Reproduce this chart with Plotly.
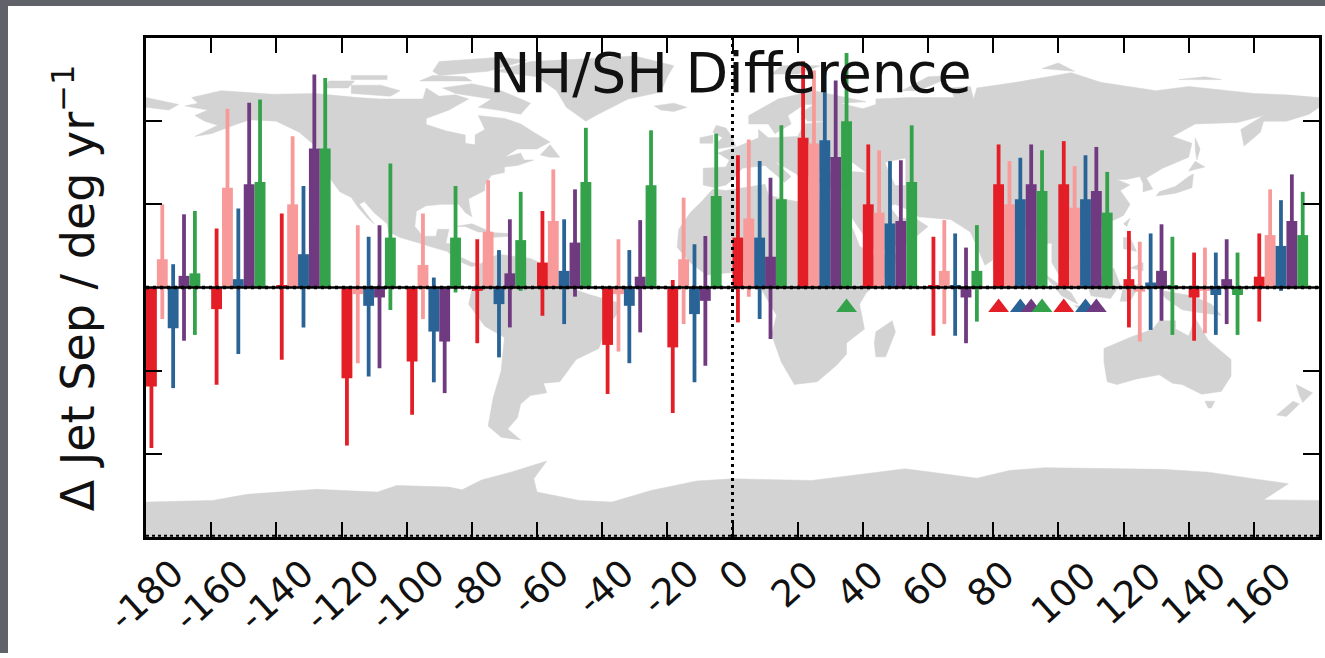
import plotly.graph_objects as go

# ---------- data ----------
group_lon = [-180,-160,-140,-120,-100,-80,-60,-40,-20,0,20,40,60,80,100,120,140,160]
tick_vals = [-180,-160,-140,-120,-100,-80,-60,-40,-20,0,20,40,60,80,100,120,140,160]
tick_text = ["-180","-160","-140","-120","-100","-80","-60","-40","-20","0","20","40","60","80","100","120","140","160"]

red_v  = [-1.19,-.26,.03,-1.09,-.89,-.04,.3,-.69,-.72,.6,1.8,1.0,.03,1.24,1.24,.1,-.12,.13]
red_lo = [-1.93,-1.17,-.87,-1.9,-1.53,-.67,-.34,-1.28,-1.51,-.42,.9,.3,-.58,.7,.72,-.48,-.64,-.41]
red_hi = [-.45,.71,.89,-.28,-.2,.58,.92,-.1,.09,1.59,2.72,1.72,.61,1.72,1.76,.68,.42,.65]
pink_v  = [.34,1.2,1.0,-.08,.27,.67,.8,-.08,.34,.83,1.73,.9,.2,1.0,.96,-.05,-.04,.63]
pink_lo = [-.38,.25,.18,-.91,-.38,.05,.2,-.77,-.44,-.11,.85,.15,-.44,.5,.46,-.65,-.55,.1]
pink_hi = [1.0,2.15,1.82,.75,.89,1.29,1.42,.58,1.08,1.78,2.61,1.65,.81,1.52,1.46,.55,.48,1.18]
blue_v  = [-.49,.10,.4,-.22,-.53,-.2,.2,-.22,-.32,.6,1.77,.77,.03,1.06,1.06,.06,-.09,.5]
blue_lo = [-1.21,-.8,-.48,-1.07,-1.14,-.84,-.44,-.91,-1.14,-.38,.9,.02,-.58,.55,.53,-.51,-.57,-.04]
blue_hi = [.28,.95,1.22,.61,.12,.45,.82,.45,.52,1.52,2.61,1.52,.65,1.56,1.59,.65,.42,1.05]
purple_v  = [.14,1.24,1.67,-.12,-.65,.17,.54,.13,-.16,.37,1.57,.8,-.12,1.24,1.16,.2,.1,.8]
purple_lo = [-.64,.26,.78,-.97,-1.27,-.48,-.11,-.54,-.94,-.62,.65,.05,-.67,.75,.63,-.4,-.44,.25]
purple_hi = [.88,2.22,2.56,.75,0,.82,1.18,.81,.62,1.32,2.49,1.53,.48,1.72,1.69,.76,.58,1.36]
green_v  = [.17,1.27,1.67,.6,.6,.57,1.27,1.23,1.1,1.06,2.0,1.27,.2,1.16,.9,.03,-.09,.63]
green_lo = [-.57,.28,.82,-.27,-.06,-.04,.6,.57,.37,.2,1.2,.6,-.41,.67,.42,-.57,-.57,.1]
green_hi = [.92,2.26,2.52,1.49,1.22,1.15,1.92,1.89,1.85,1.95,2.82,1.95,.75,1.65,1.39,.61,.42,1.15]

series_names = ["Red","Pink","Blue","Purple","Green"]
series_colors = ["#E41E26","#F89A9A","#2A6496","#6F3A80","#33A24A"]
series_v = [red_v,pink_v,blue_v,purple_v,green_v]
series_lo = [red_lo,pink_lo,blue_lo,purple_lo,green_lo]
series_hi = [red_hi,pink_hi,blue_hi,purple_hi,green_hi]

# significance triangles: (group longitude, series index)
sig_groups = [20,80,80,80,80,100,100,100]
sig_series = [4,0,2,3,4,0,2,3]
sig_value = -0.24

# ---------- land outlines (lon, lat) ----------
N_AMERICA = [(-168,65.5),(-164,66.5),(-166,68.5),(-157,71),(-141,69.7),(-128,70),(-115,68.5),(-108,68),(-95,68),(-94,72),(-90,69),(-85,69.5),(-81,68),(-87,64),(-94,61),(-94,58.8),(-88,56.5),(-82,55),(-82,52),(-79,51.5),(-79,55),(-76,57),(-78,62),(-70,61),(-65,59),(-61,56),(-56,52.5),(-60,50),(-66,50),(-70,47),(-65,48.5),(-64,46),(-61,46),(-66,44),(-70,43.5),(-70,41.5),(-74,40.5),(-76,37),(-76,35),(-81,32),(-80.5,28),(-80,25.5),(-82,27),(-84,30),(-89,30),(-94,29.5),(-97,27.5),(-97.5,22),(-95,18.5),(-91,18.5),(-90.5,21),(-87,21),(-88,16),(-84,15.5),(-83.5,11),(-80,9),(-77.5,8.5),(-80,7.5),(-85,10),(-87.5,13),(-92,14.5),(-96,16),(-102,18),(-105.5,20),(-106,23),(-110,27),(-113,31),(-114.5,30),(-110,23),(-112,25),(-115,29),(-117,32.5),(-120.5,34.5),(-124,40),(-124,47),(-128,51),(-133,56),(-140,60),(-148,60.5),(-152,59),(-160,55.5),(-165,54.5),(-158,58.5),(-162,60),(-165,62),(-161,64)]
S_AMERICA = [(-77.5,8.5),(-72,12),(-62,10.5),(-52,5),(-50,0),(-44,-2.5),(-35,-5.5),(-35,-9),(-39,-15),(-41,-22),(-48,-26),(-53,-34),(-58,-34.5),(-57,-38),(-62,-39),(-65,-42),(-66,-47),(-69,-51),(-65,-55),(-71,-54),(-75,-50),(-73.5,-40),(-71,-30),(-70,-18),(-76,-14),(-81,-6),(-80,-1),(-78,3)]
AFRICA = [(-6,35.5),(-2,35),(10,37.2),(11,33.5),(15,32),(20,31),(25,32),(32,31),(34,28),(37,21),(39,15),(43,11.5),(51,12),(49,6),(41,-2),(39,-6),(40.5,-15),(35,-20),(35,-24),(32,-28),(26,-34),(19,-35),(15,-27),(12,-17),(13.5,-10),(9,-1),(9.5,4),(5,6),(-4,5),(-8,4.5),(-13,9),(-17,14.5),(-16.5,21),(-13,27),(-9.5,31)]
EURASIA = [(-9,37),(-9,43),(-2,43.5),(-1,46),(-4.5,48.5),(2,51),(8,54),(8,57),(11,54),(20,54.5),(22,59),(30,60),(23,60),(21,63),(25,66),(22,66),(17,62),(18,59),(13,55.5),(11,59),(5,59),(5,62),(14,68),(25,71),(41,67),(33,66.5),(40,64.5),(44,66),(44,68),(54,68.5),(68,68.5),(67,72),(73,72.5),(74,68),(75,72),(87,74),(104,77.5),(113,74),(130,71),(140,72.5),(160,70),(170,69.5),(180,68.5),(180,65),(177,62.5),(170,60),(163,60),(162,56),(157,51),(156,57),(163,62),(155,59.5),(142,59),(135,54.5),(141,52),(140,47),(132,43),(127,39.5),(129,35.5),(126,34.5),(126,37.5),(125,40),(121,39),(118,39),(122,37),(119,35),(122,30),(120,26),(113,22),(108,21.5),(106,19),(109,13),(105,8.5),(100,13.5),(103,2),(101,3),(98,9),(98,16),(94,16),(91,22.5),(87,21),(80,15),(80,10),(77.5,8),(73,20),(67,24.5),(57,25.5),(56,27),(50,30),(48,29.5),(51,25),(56,25),(60,22),(55,17),(44,12.5),(39,21),(35,28),(34,31),(36,36),(30,36),(26.5,38),(27,41),(34,42),(41,41.5),(37,45),(33,45),(30,46),(28,42),(26,41),(23,40),(23,37),(19.5,41),(13,45.5),(18,40),(16,38),(10,44),(3,43),(0,39),(-2,37),(-5.5,36)]
CHUKOTKA = [(-180,68.5),(-170,66),(-173,64),(-180,65)]
AUSTRALIA = [(114,-22),(122,-18),(129,-15),(131,-12),(136,-12),(136,-15),(140,-17.5),(142,-11),(146,-19),(153,-26),(153,-32),(150,-37.5),(144,-38.5),(138,-35),(135,-34.5),(131,-31.5),(124,-33),(118,-35),(115,-34),(114,-27)]
ANTARCTICA = [(-180,-77.4),(-159.5,-76.8),(-149,-74.6),(-127.6,-72.8),(-109,-73.8),(-103,-71.4),(-87,-72),(-83,-73),(-77,-69.4),(-68,-66.6),(-57,-62.6),(-61,-69),(-60,-73.8),(-47,-76.8),(-37,-77.4),(-25,-73.2),(-11,-69.8),(0,-69),(24.3,-69.6),(53,-65.4),(75,-68.8),(85,-66),(96,-65),(132,-65.6),(146,-66.6),(170.6,-70.8),(163,-76.6),(180,-76.8),(180,-90),(-180,-90)]
ISLANDS = [
 [(-80,73.5),(-72,71.5),(-62,66.5),(-65,62.5),(-72,64),(-78,65),(-74,68),(-85,70),(-89,72)],
 [(-117,70),(-105,69),(-102,71),(-108,73),(-117,73)],
 [(-90,76.5),(-75,78),(-63,82),(-72,83),(-90,81.5),(-92,78)],
 [(-125,72),(-118,72),(-116,74.5),(-124,74.5)],
 [(-96,74.5),(-80,74.5),(-82,76),(-92,76.5)],
 [(-117,75),(-106,75),(-106,76.5),(-117,76.5)],
 [(-73,78),(-60,76),(-54,71),(-51,65),(-45,60),(-42,62),(-32,68),(-22,70.5),(-20,76),(-18,80),(-30,83.5),(-45,82.5),(-62,81.5)],
 [(-24,65.5),(-18,66.5),(-14,65),(-18,63.5),(-22,64)],
 [(-85,22),(-80,23),(-74,20),(-78,20),(-82,22)],
 [(-74,19.8),(-69,19.5),(-68.5,18.5),(-74,18)],
 [(-59,47.8),(-56,51.5),(-53,47),(-56,47)],
 [(-5,50),(1,51),(0,54),(-2,57.5),(-5,58.5),(-6,56),(-3,54),(-5,52)],
 [(-10,52),(-6,52),(-6,55),(-10,54)],
 [(12,77),(20,77),(27,80),(15,80)],
 [(52,71),(57,71),(68,76.5),(60,76)],
 [(95,79),(105,78),(100,81)],
 [(137,75),(150,75),(145,76)],
 [(142,54),(143.5,50),(142.5,46),(142,50)],
 [(130,33),(136,34),(141,36),(141.5,41),(140,40),(136,36.5),(131,34.5)],
 [(140,42),(145,43.5),(142,45.5)],
 [(120,23),(122,25),(121,22)],
 [(109,20),(111,19.5),(109,18)],
 [(80,9.5),(82,7),(80,6)],
 [(120,18),(122,18),(124,13),(120,14)],
 [(122,7),(126,9),(126,6)],
 [(109,1),(117,7),(119,1),(116,-4),(110,-3)],
 [(95,5.5),(104,-2),(106,-6),(101,-3)],
 [(105,-6.5),(114,-7.5),(114,-8.5),(106,-7.5)],
 [(119,-5),(120,1),(125,1),(122,-5)],
 [(131,-1),(141,-3),(147,-6),(150,-10),(143,-9),(138,-8),(133,-4)],
 [(145,-41),(148,-41),(147,-43.5),(146,-43.5)],
 [(173,-35),(178,-38),(175,-41.5),(174,-39)],
 [(167,-46),(172,-41),(174,-42),(170,-46.5)],
 [(49,-12),(50,-16),(47,-25),(44,-25),(43.5,-20),(44,-16)],
]
CASPIAN = [(47,45),(53,46.5),(53,37),(50,37),(48,42)]

LAT_PER_UNIT = 30.0  # map latitude maps linearly on the value axis


def svg_path(polys):
    parts = []
    for poly in polys:
        pts = [f"{lon},{lat / LAT_PER_UNIT:.4f}" for lon, lat in poly]
        parts.append("M" + " L".join(pts) + " Z")
    return " ".join(parts)


LAND = [N_AMERICA, S_AMERICA, AFRICA, EURASIA, CHUKOTKA, AUSTRALIA, ANTARCTICA] + ISLANDS

fig = go.Figure()

BAR_STEP = 20 / 6
for i, name in enumerate(series_names):
    xs = [lon + BAR_STEP * (i + 0.5) for lon in group_lon]
    plus = [h - v for h, v in zip(series_hi[i], series_v[i])]
    minus = [v - l for l, v in zip(series_lo[i], series_v[i])]
    fig.add_trace(go.Bar(x=xs, y=series_v[i], width=BAR_STEP, name=name, showlegend=False,
                         marker=dict(color=series_colors[i], line=dict(width=0)),
                         error_y=dict(type="data", symmetric=False, array=plus, arrayminus=minus,
                                      color=series_colors[i], thickness=3.8, width=0)))

fig.add_trace(go.Scatter(
    x=[lon + BAR_STEP * (s + 0.5) for lon, s in zip(sig_groups, sig_series)],
    y=[sig_value] * len(sig_groups), mode="markers", showlegend=False,
    marker=dict(symbol="triangle-up", size=18, color=[series_colors[s] for s in sig_series], line=dict(width=0))))

# reference lines
fig.add_trace(go.Scatter(x=[-180, 180], y=[0, 0], mode="lines", showlegend=False,
                         line=dict(color="black", width=2.5)))
fig.add_trace(go.Scatter(x=[-180, 180], y=[0, 0], mode="lines", showlegend=False,
                         line=dict(color="black", width=3.5, dash="3px,4px")))
fig.add_trace(go.Scatter(x=[0, 0], y=[-3, 3], mode="lines", showlegend=False,
                         line=dict(color="black", width=3, dash="3px,4px")))
fig.add_trace(go.Scatter(x=[-180, 180], y=[-2.985, -2.985], mode="lines", showlegend=False,
                         line=dict(color="black", width=2, dash="3px,3px")))

# rotated longitude labels centred under their ticks
LABEL_Y_PX = {1: 575, 2: 584, 3: 593, 4: 595}
LABEL_X_SHIFT = {1: 1, 2: -3, 3: 5, 4: 0}
label_annotations = []
for val, txt in zip(tick_vals, tick_text):
    yc = LABEL_Y_PX[len(txt)]
    xs_ = LABEL_X_SHIFT[len(txt)]
    if txt.startswith("-") and len(txt) == 3:
        yc, xs_ = 587, 3
    label_annotations.append(dict(
        text=txt, x=val, xref="x", y=0, yref="paper", xanchor="center", yanchor="middle",
        xshift=xs_, yshift=537 - yc, textangle=-42, showarrow=False,
        font=dict(size=37, family="DejaVu Sans", color="#111")))

fig.update_layout(
    width=1325, height=658, autosize=False,
    margin=dict(l=146, r=3, t=38, b=121),
    paper_bgcolor="white", plot_bgcolor="white",
    barmode="overlay", showlegend=False,
    font=dict(family="DejaVu Sans", color="black"),
    xaxis=dict(range=[-180, 180], tickmode="array", tickvals=tick_vals, showticklabels=False,
               ticks="inside", ticklen=15, tickwidth=1.5, tickcolor="black",
               showline=True, linecolor="black", linewidth=3, mirror="ticks",
               showgrid=False, zeroline=False),
    yaxis=dict(range=[-3, 3], tickvals=[-2, -1, 1, 2], showticklabels=False,
               ticks="inside", ticklen=16, tickwidth=1.5, tickcolor="black",
               showline=True, linecolor="black", linewidth=3, mirror="ticks",
               showgrid=False, zeroline=False),
    annotations=[
        dict(text="NH/SH Difference", xref="paper", yref="paper", x=0.4985, y=0.93,
             xanchor="center", yanchor="middle", showarrow=False,
             font=dict(size=55.5, family="DejaVu Sans", color="#111")),
        dict(text="Δ Jet Sep / deg yr<sup>−1</sup>", xref="paper", yref="paper",
             x=-0.0615, y=0.5, xanchor="center", yanchor="middle", textangle=-90, showarrow=False,
             font=dict(size=46, family="DejaVu Sans", color="#111")),
    ] + label_annotations,
    shapes=[
        dict(type="path", path=svg_path(LAND), xref="x", yref="y", fillcolor="#D3D3D3",
             line=dict(color="#D3D3D3", width=0.5), layer="below"),
        dict(type="path", path=svg_path([CASPIAN]), xref="x", yref="y", fillcolor="white",
             line=dict(color="white", width=0.5), layer="below"),
        dict(type="rect", xref="paper", yref="paper", xsizemode="pixel", xanchor=0, ysizemode="pixel", yanchor=0,
             x0=-146, x1=-138, y0=-116, y1=537, fillcolor="#5F6268", line=dict(width=0), layer="above"),
        dict(type="rect", xref="paper", yref="paper", xsizemode="pixel", xanchor=0, ysizemode="pixel", yanchor=0,
             x0=-146, x1=1179, y0=531, y1=537, fillcolor="#5F6268", line=dict(width=0), layer="above"),
    ],
)

fig.write_html("out.html", config={"displayModeBar": False},
               post_script="document.body.style.margin='0';")
